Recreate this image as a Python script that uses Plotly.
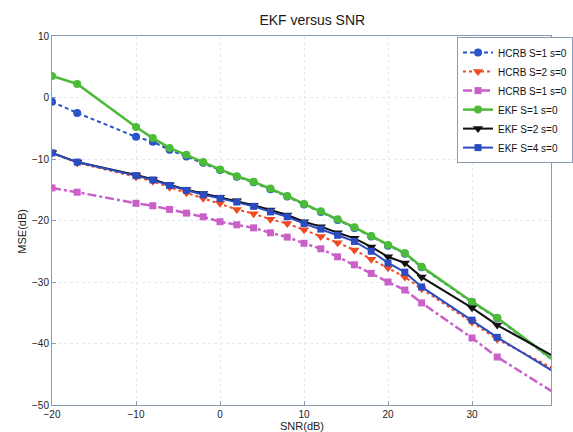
import plotly.graph_objects as go

snr = [-20, -17, -10, -8, -6, -4, -2, 0, 2, 4, 6, 8, 10, 12, 14, 16, 18, 20, 22, 24, 30, 33, 40]

hcrb_s1 = [-0.7, -2.5, -6.4, -7.2, -8.5, -9.6, -10.6, -11.8, -12.9, -13.8, -14.9, -16.1, -17.4, -18.6, -19.9, -21.2, -22.6, -24.1, -25.4, -27.6, -33.3, -35.9, -43.1]
hcrb_s2 = [-9.0, -10.6, -12.9, -13.6, -14.6, -15.5, -16.4, -17.2, -18.2, -18.9, -19.8, -20.5, -21.5, -22.6, -23.6, -24.8, -26.3, -27.7, -29.2, -31.1, -36.5, -39.3, -44.3]
hcrb_s1b = [-14.7, -15.4, -17.2, -17.6, -18.2, -18.8, -19.4, -20.2, -20.7, -21.2, -22.0, -22.7, -23.7, -24.6, -25.9, -27.2, -28.6, -30.0, -31.3, -33.4, -39.1, -42.2, -48.2]
ekf_s1 = [3.5, 2.2, -4.8, -6.6, -8.2, -9.3, -10.5, -11.7, -12.8, -13.7, -14.8, -16.0, -17.3, -18.5, -19.8, -21.1, -22.5, -24.0, -25.3, -27.5, -33.2, -35.8, -43.0]
ekf_s2 = [-9.0, -10.5, -12.6, -13.3, -14.2, -15.0, -15.6, -16.2, -16.8, -17.5, -18.3, -19.1, -20.2, -21.0, -22.0, -22.9, -24.3, -25.9, -26.9, -29.2, -34.2, -37.0, -42.3]
ekf_s4 = [-9.0, -10.5, -12.7, -13.4, -14.3, -15.1, -15.8, -16.4, -17.0, -17.7, -18.6, -19.4, -20.5, -21.4, -22.4, -23.4, -25.0, -26.9, -28.4, -30.8, -36.2, -39.0, -44.8]

names = ["HCRB S=1 s=0", "HCRB S=2 s=0", "HCRB S=1 s=0", "EKF S=1 s=0", "EKF S=2 s=0", "EKF S=4 s=0"]

fig = go.Figure()

def add(y, name, color, dash, symbol, width, size):
    fig.add_trace(go.Scatter(
        x=snr, y=y, name=name, mode="lines+markers",
        line=dict(color=color, dash=dash, width=width),
        marker=dict(symbol=symbol, size=size, color=color, line=dict(width=0)),
    ))

add(hcrb_s1, names[0], "#2a55c8", "4px,3px", "circle", 2, 8)
add(hcrb_s2, names[1], "#f04a22", "dot", "triangle-down", 2, 9)
add(hcrb_s1b, names[2], "#c860c8", "dashdot", "square", 2.5, 7)
add(ekf_s1, names[3], "#4cbb38", "solid", "circle", 2.5, 8)
add(ekf_s2, names[4], "#111111", "solid", "triangle-down", 2, 9)
add(ekf_s4, names[5], "#2a4cc0", "solid", "square", 2, 7)

axis_common = dict(
    showline=True, linecolor="#8a9ab0", linewidth=1, mirror=True,
    showgrid=True, gridcolor="#e3eaf4", griddash="dot", gridwidth=1,
    ticks="inside", ticklen=4, tickcolor="#8a9ab0", zeroline=False,
    tickfont=dict(family="Liberation Sans, Arial", size=10, color="#222222"),
)

fig.update_layout(
    width=573, height=432,
    margin=dict(l=52, r=0, t=36, b=27),
    paper_bgcolor="white", plot_bgcolor="white",
    title=dict(text="EKF versus SNR", x=0.545, xanchor="center", y=0.953, yanchor="middle",
               font=dict(family="Liberation Sans, Arial", size=14, color="#1a1a1a")),
    xaxis=dict(range=[-20, 39.4], tickvals=[-20, -10, 0, 10, 20, 30, 40],
               ticktext=["\u221220", "\u221210", "0", "10", "20", "30", "40"], **axis_common),
    yaxis=dict(range=[-50, 10], tickvals=[-50, -40, -30, -20, -10, 0, 10],
               ticktext=["\u221250", "\u221240", "\u221230", "\u221220", "\u221210", "0", "10"], **axis_common),
    legend=dict(x=0.812, y=0.997, xanchor="left", yanchor="top",
                bgcolor="white", bordercolor="#8a9ab0", borderwidth=1,
                font=dict(family="Liberation Sans, Arial", size=10, color="#111111"),
                itemwidth=30, tracegroupgap=0),
    showlegend=True,
)

fig.add_annotation(text="SNR(dB)", xref="paper", yref="paper", x=0.5, y=-0.035,
                   xanchor="center", yanchor="top", showarrow=False,
                   font=dict(family="Liberation Sans, Arial", size=11, color="#222222"))
fig.add_annotation(text="MSE(dB)", xref="paper", yref="paper", x=-0.06, y=0.47,
                   xanchor="center", yanchor="middle", showarrow=False, textangle=-90,
                   font=dict(family="Liberation Sans, Arial", size=11, color="#222222"))

fig.write_html("out.html")
